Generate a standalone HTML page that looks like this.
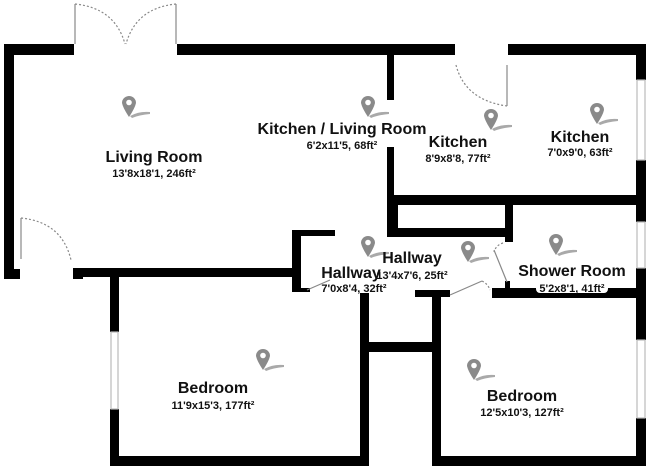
<!DOCTYPE html>
<html><head><meta charset="utf-8"><style>
html,body{margin:0;padding:0;background:#fff;}
svg{display:block}
text{font-family:"Liberation Sans",sans-serif;font-weight:bold;fill:#111;text-anchor:middle}
.t{font-size:16px}
.s{font-size:11px}
</style></head><body>
<svg width="650" height="472" viewBox="0 0 650 472" xmlns="http://www.w3.org/2000/svg">
<defs>
<g id="pin">
<path d="M1,13 Q10,8 21,9 L21,11 Q10,12 3,15 Z" fill="#9a9a9a" opacity="0.85"/>
<path d="M-7,0 A7,7 0 1 1 7,0 Q6,5 0,14 Q-6,5 -7,0 Z" fill="#8a8a8a"/>
<circle cx="0" cy="-0.5" r="2.8" fill="#fff"/>
</g>
</defs>
<g fill="#000">
<rect x="4" y="44" width="70" height="11"/>
<rect x="177" y="44" width="278" height="11"/>
<rect x="508" y="44" width="138" height="11"/>
<rect x="4" y="44" width="10" height="235"/>
<rect x="4" y="269" width="16" height="10"/>
<rect x="73" y="268" width="227" height="9"/>
<rect x="73" y="268" width="10" height="11"/>
<rect x="110" y="268" width="9" height="64"/>
<rect x="110" y="409" width="9" height="57"/>
<rect x="110" y="456" width="259" height="10"/>
<rect x="360" y="293" width="9" height="173"/>
<rect x="369" y="342" width="64" height="10"/>
<rect x="292" y="230" width="9" height="62"/>
<rect x="292" y="230" width="43" height="6"/>
<rect x="300" y="288" width="10" height="4"/>
<rect x="387" y="44" width="7" height="56"/>
<rect x="387" y="147" width="7" height="90"/>
<rect x="387" y="195" width="259" height="10"/>
<rect x="394" y="205" width="4" height="23"/>
<rect x="387" y="228" width="126" height="9"/>
<rect x="505" y="205" width="8" height="37"/>
<rect x="636" y="44" width="10" height="36"/>
<rect x="636" y="160" width="10" height="62"/>
<rect x="636" y="268" width="10" height="72"/>
<rect x="636" y="418" width="10" height="48"/>
<rect x="492" y="288" width="154" height="10"/>
<rect x="505" y="281" width="5" height="9"/>
<rect x="415" y="290" width="35" height="7"/>
<rect x="432" y="290" width="9" height="176"/>
<rect x="432" y="456" width="214" height="10"/>
</g>
<g fill="none" stroke="#888" stroke-width="1.2">
<rect x="111" y="332" width="7" height="77" stroke="#bbb"/>
<rect x="637" y="80" width="8" height="80" stroke="#bbb"/>
<rect x="637" y="222" width="8" height="46" stroke="#bbb"/>
<rect x="637" y="340" width="8" height="78" stroke="#bbb"/>
<line x1="75" y1="4" x2="75" y2="44"/>
<line x1="176" y1="4" x2="176" y2="44"/>
<path d="M75,4 Q115,8 125,44" stroke-dasharray="2,2"/>
<path d="M176,4 Q136,8 126,44" stroke-dasharray="2,2"/>
<line x1="21" y1="218" x2="21" y2="259"/>
<path d="M21,218 Q62,222 71,260" stroke-dasharray="2,2"/>
<line x1="507" y1="65" x2="507" y2="106"/>
<path d="M456,65 Q465,100 507,106" stroke-dasharray="2,2"/>
<line x1="450" y1="295" x2="482" y2="281"/>
<path d="M482,281 Q488,284 490,290" stroke-dasharray="2,2"/>
<line x1="307" y1="290" x2="330" y2="280"/>
<line x1="494" y1="250" x2="507" y2="282"/>
<path d="M503,243 Q496,245 494,252" stroke-dasharray="2,2"/>
</g>
<use href="#pin" x="129" y="103"/>
<use href="#pin" x="368" y="103"/>
<use href="#pin" x="491" y="116"/>
<use href="#pin" x="597" y="110"/>
<use href="#pin" x="368" y="243"/>
<use href="#pin" x="468" y="248"/>
<use href="#pin" x="556" y="241"/>
<use href="#pin" x="263" y="356"/>
<use href="#pin" x="474" y="366"/>
<text class="t" x="154" y="162">Living Room</text>
<text class="s" x="154" y="177">13'8x18'1, 246ft²</text>
<text class="t" x="342" y="134">Kitchen / Living Room</text>
<text class="s" x="342" y="149">6'2x11'5, 68ft²</text>
<text class="t" x="458" y="147">Kitchen</text>
<text class="s" x="458" y="162">8'9x8'8, 77ft²</text>
<text class="t" x="580" y="142">Kitchen</text>
<text class="s" x="580" y="156">7'0x9'0, 63ft²</text>
<text class="t" x="412" y="263">Hallway</text>
<text class="s" x="412" y="279">13'4x7'6, 25ft²</text>
<text class="t" x="351" y="278">Hallway</text>
<text class="s" x="354" y="292">7'0x8'4, 32ft²</text>
<text class="t" x="572" y="276">Shower Room</text>
<rect x="536" y="282" width="72" height="11" rx="4" fill="#fff"/>
<text class="s" x="572" y="292">5'2x8'1, 41ft²</text>
<text class="t" x="213" y="393">Bedroom</text>
<text class="s" x="213" y="409">11'9x15'3, 177ft²</text>
<text class="t" x="522" y="401">Bedroom</text>
<text class="s" x="522" y="416">12'5x10'3, 127ft²</text>
</svg>
</body></html>
